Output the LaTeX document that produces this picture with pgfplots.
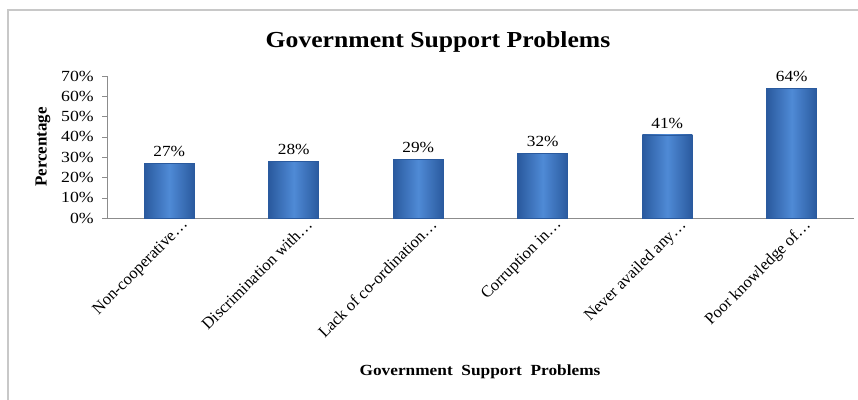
\documentclass[border=0pt]{standalone}
\usepackage{fontspec}
\setmainfont{Liberation Serif}
\usepackage{pgfplots}
\pgfplotsset{compat=1.18}
\definecolor{barmid}{HTML}{4F8AD6}
\definecolor{baredge}{HTML}{2A5A9E}
\definecolor{framegray}{HTML}{C8C8C8}
\definecolor{axisgray}{HTML}{8C8C8C}
\pgfplotsset{
  gbar/.style={ybar, bar width=50bp, bar shift=0pt, draw=baredge, line width=0.6bp,
    left color=baredge, right color=baredge, middle color=barmid},
}
\begin{document}
\begin{tikzpicture}[x=1bp,y=1bp]
\useasboundingbox (0,0) rectangle (858,399);
\draw[framegray, line width=1.5bp] (8,-10) -- (8,389) -- (870,389);
\node[font=\fontsize{23}{25}\selectfont\bfseries, xscale=1.12] at (438,357) {Government Support Problems};
\begin{axis}[
  at={(107bp,181bp)}, anchor=south west,
  scale only axis, width=747bp, height=142bp,
  xmin=-0.5, xmax=5.5, ymin=0, ymax=70,
  axis x line*=bottom, axis y line*=left,
  axis line style={axisgray},
  xtick={0,1,2,3,4,5},
  xticklabels={Non-cooperative…, Discrimination with…, Lack of co-ordination…, Corruption in…, Never availed any…, Poor knowledge of…},
  x tick label style={rotate=45, anchor=north east, font=\fontsize{16.5}{18}\selectfont, inner sep=1bp, xshift=13bp, yshift=-3bp},
  major x tick style={draw=none},
  ytick={0,10,...,70},
  yticklabel={\pgfmathprintnumber{\tick}\%},
  y tick label style={font=\fontsize{15.5}{17}\selectfont, inner sep=1bp, xscale=1.15, xshift=-6bp},
  /pgf/number format/assume math mode=true,
  tick style={axisgray},
  tick align=outside,
  major tick length=5bp,
  ylabel={\bfseries Percentage},
  ylabel style={font=\fontsize{17}{18}\selectfont, at={(-64bp,71bp)}, anchor=center},
  xlabel={\bfseries Government\ \ Support\ \ Problems},
  xlabel style={font=\fontsize{15.5}{17}\selectfont, xscale=1.12, at={(373bp,-154bp)}, anchor=center},
  nodes near coords={\pgfmathprintnumber{\pgfplotspointmeta}\%},
  nodes near coords style={font=\fontsize{15.5}{17}\selectfont, xscale=1.12, anchor=south, yshift=3bp},
]
\addplot[gbar] coordinates {(0,27)};
\addplot[gbar] coordinates {(1,28)};
\addplot[gbar] coordinates {(2,29)};
\addplot[gbar] coordinates {(3,32)};
\addplot[gbar] coordinates {(4,41)};
\addplot[gbar] coordinates {(5,64)};
\end{axis}
\end{tikzpicture}
\end{document}
